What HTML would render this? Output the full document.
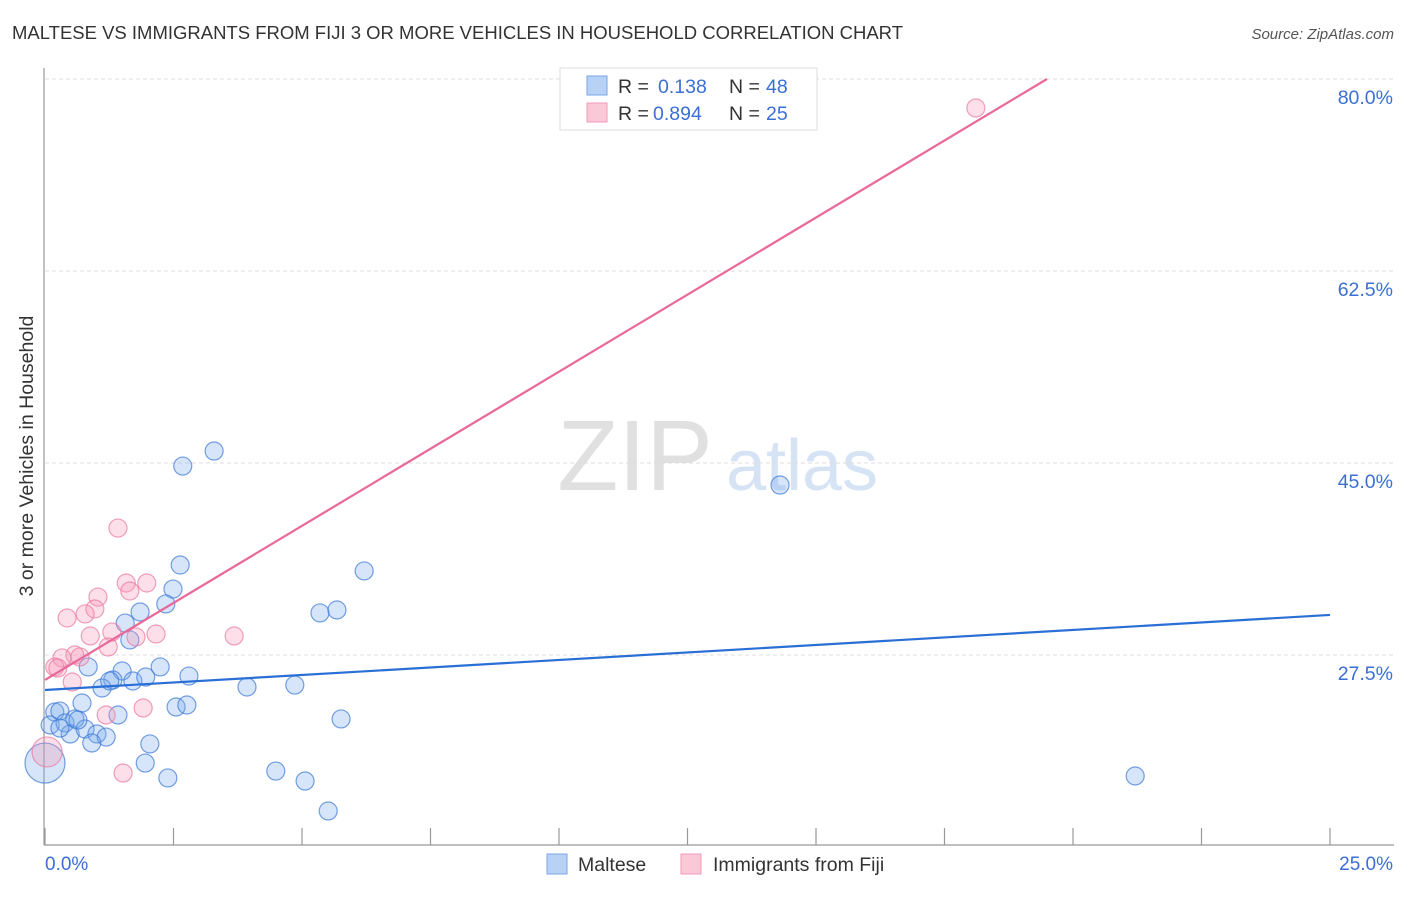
<!DOCTYPE html>
<html><head><meta charset="utf-8"><style>
body{margin:0;background:#fff;font-family:"Liberation Sans",sans-serif;}
svg text{font-family:"Liberation Sans",sans-serif;}
</style></head><body>
<svg id="c" width="1406" height="892">
<text x="12" y="39" font-size="18.5" fill="#333" textLength="891">MALTESE VS IMMIGRANTS FROM FIJI 3 OR MORE VEHICLES IN HOUSEHOLD CORRELATION CHART</text>
<text x="1394" y="39" font-size="15" fill="#555" font-style="italic" text-anchor="end">Source: ZipAtlas.com</text>
<g>
<text x="635" y="490" font-size="100" fill="#e0e0e0" font-family="Liberation Serif" text-anchor="middle">ZIP</text>
<text x="802" y="490" font-size="72" fill="#d6e3f5" text-anchor="middle">atlas</text>
</g>
<g id="grid"></g>
<line x1="44" y1="68" x2="44" y2="845" stroke="#999" stroke-width="1.2"/>
<line x1="44" y1="845" x2="1394" y2="845" stroke="#999" stroke-width="1.2"/>
<g id="xticks"></g>
<text x="33" y="456" font-size="19.5" fill="#333" text-anchor="middle" transform="rotate(-90 33 456)">3 or more Vehicles in Household</text>
<text x="45" y="870" font-size="19" fill="#3b6fd4">0.0%</text>
<text x="1393" y="870" font-size="19" fill="#3b6fd4" text-anchor="end">25.0%</text>
<g id="pts"></g>
<g id="lines"></g>
<g>
<rect x="560" y="68" width="257" height="62" fill="#fff" stroke="#ddd"/>
<rect x="587" y="76" width="20" height="19" fill="#b8d2f5" stroke="#7aa6e6"/>
<rect x="587" y="103" width="20" height="19" fill="#fbc8d7" stroke="#f09ab5"/>
<text x="618" y="93" font-size="19.5" fill="#333">R = </text><text x="658" y="93" font-size="19.5" fill="#3b6fd4">0.138</text>
<text x="729" y="93" font-size="19.5" fill="#333">N = </text><text x="766" y="93" font-size="19.5" fill="#3b6fd4">48</text>
<text x="618" y="120" font-size="19.5" fill="#333">R = </text><text x="653" y="120" font-size="19.5" fill="#3b6fd4">0.894</text>
<text x="729" y="120" font-size="19.5" fill="#333">N = </text><text x="766" y="120" font-size="19.5" fill="#3b6fd4">25</text>
</g>
<g>
<rect x="547" y="854" width="20" height="20" fill="#b8d2f5" stroke="#7aa6e6"/>
<text x="578" y="871" font-size="19.5" fill="#333">Maltese</text>
<rect x="681" y="854" width="20" height="20" fill="#fbc8d7" stroke="#f09ab5"/>
<text x="713" y="871" font-size="19.5" fill="#333">Immigrants from Fiji</text>
</g>
</svg>
<script>
const yTicks=[27.5,45,62.5,80];
const yTickLabels=["27.5%","45.0%","62.5%","80.0%"];
const xTicks=[0,2.5,5,7.5,10,12.5,15,17.5,20,22.5,25];
const blueX=[3.29,2.68,14.30,2.63,6.21,2.49,2.35,1.85,5.35,5.68,1.56,1.65,0.84,1.50,2.24,2.80,1.32,1.71,1.96,1.11,3.93,4.86,0.72,0.19,0.29,0.10,0.39,0.58,0.49,0.78,1.01,1.19,1.42,2.55,2.76,0.91,2.04,5.76,1.95,2.39,4.49,5.06,5.51,21.21,0,0.64,1.26,0.29];
const blueY=[46.09,44.72,42.99,35.70,35.16,33.51,32.15,31.42,31.33,31.60,30.41,28.87,26.41,26.04,26.41,25.58,25.22,25.13,25.49,24.49,24.58,24.76,23.12,22.30,22.39,21.12,21.30,21.67,20.30,20.75,20.30,20.02,22.03,22.76,22.94,19.48,19.39,21.67,17.65,16.29,16.92,16.01,13.28,16.47,17.65,21.57,25.13,20.84];
const blueR=[9,9,9,9,9,9,9,9,9,9,9,9,9,9,9,9,9,9,9,9,9,9,9,9,9,9,9,9,9,9,9,9,9,9,9,9,9,9,9,9,9,9,9,9,20,9,9,9];
const pinkX=[18.11,1.42,1.58,1.98,1.65,1.03,0.97,0.78,0.43,0.88,1.30,1.77,2.16,3.68,1.23,0.58,0.68,0.33,0.19,0.25,0.53,1.19,1.91,1.52,0.04];
const pinkY=[77.36,39.07,34.06,34.06,33.33,32.78,31.69,31.24,30.87,29.23,29.59,29.14,29.41,29.23,28.23,27.50,27.32,27.23,26.41,26.31,25.04,22.03,22.67,16.74,18.66];
const pinkR=[9,9,9,9,9,9,9,9,9,9,9,9,9,9,9,9,9,9,9,9,9,9,9,9,15];
const blueLine=[24.31,31.15];
const pinkLine=[25.22,2.81];
const NS="http://www.w3.org/2000/svg";
const sx=v=>45+v*51.4, sy=v=>79+(80-v)*10.971;
function mk(t,a,p){const e=document.createElementNS(NS,t);for(const k in a)e.setAttribute(k,a[k]);p.appendChild(e);return e;}
const grid=document.getElementById('grid');
yTicks.forEach((t,i)=>{
 const l=mk('line',{x1:45,x2:1394,y1:sy(t),y2:sy(t),stroke:'#ddd','stroke-dasharray':'4,3'},grid);
 
 
 const tx=mk('text',{x:1393,y:sy(t)+25,'font-size':19.5,fill:'#3b6fd4','text-anchor':'end'},grid);
 tx.textContent=yTickLabels[i];
 
 
});
const xt=document.getElementById('xticks');
xTicks.forEach(t=>{
 const l=mk('line',{x1:sx(t),x2:sx(t),y1:828,y2:845,stroke:'#999','stroke-width':1.2},xt);
 
 
});
const pts=document.getElementById('pts');
blueX.forEach((x,i)=>{
 const c=mk('circle',{cx:sx(x),cy:sy(blueY[i]),r:blueR[i],fill:'rgba(120,168,235,0.3)',stroke:'rgba(60,120,215,0.7)','stroke-width':1.2},pts);
 
 
});
pinkX.forEach((x,i)=>{
 const c=mk('circle',{cx:sx(x),cy:sy(pinkY[i]),r:pinkR[i],fill:'rgba(245,150,180,0.3)',stroke:'rgba(235,120,160,0.7)','stroke-width':1.2},pts);
 
 
});
const ln=document.getElementById('lines');
const bl=mk('line',{x1:sx(0),y1:sy(blueLine[0]),x2:sx(25),y2:sy(blueLine[1]),stroke:'#2a6fd6','stroke-width':2.2},ln);


const xe=(80-pinkLine[0])/pinkLine[1];
const pl=mk('line',{x1:sx(0),y1:sy(pinkLine[0]),x2:sx(xe),y2:sy(80),stroke:'#e8689a','stroke-width':2.2},ln);


</script>
</body></html>
